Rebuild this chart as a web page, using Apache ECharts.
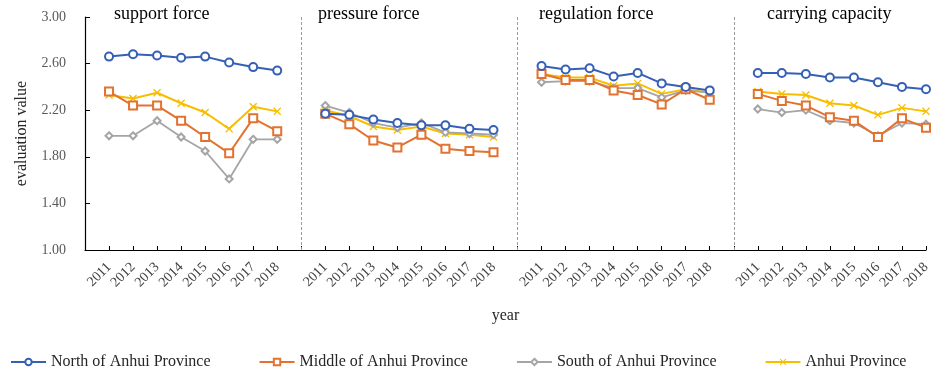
<!DOCTYPE html>
<html>
<head>
<meta charset="utf-8">
<script src="https://cdn.jsdelivr.net/npm/echarts@6/dist/echarts.min.js"></script>
<style>
html,body{margin:0;padding:0;background:#fff;}
#chart{width:941px;height:381px;}
</style>
</head>
<body>
<div id="chart"></div>
<script>
// ---- data ----
var years = ['2011','2012','2013','2014','2015','2016','2017','2018'];
var panels = ['support force','pressure force','regulation force','carrying capacity'];
var yTicks = [1.00, 1.40, 1.80, 2.20, 2.60, 3.00];
var seriesNames = ['North of Anhui Province','Middle of Anhui Province','South of Anhui Province','Anhui Province'];

var north = [
  2.66, 2.68, 2.67, 2.65, 2.66, 2.61, 2.57, 2.54,
  2.17, 2.16, 2.12, 2.09, 2.07, 2.07, 2.04, 2.03,
  2.58, 2.55, 2.56, 2.49, 2.52, 2.43, 2.40, 2.37,
  2.52, 2.52, 2.51, 2.48, 2.48, 2.44, 2.40, 2.38
];
var middle = [
  2.36, 2.24, 2.24, 2.11, 1.97, 1.83, 2.13, 2.02,
  2.17, 2.08, 1.94, 1.88, 1.99, 1.87, 1.85, 1.84,
  2.51, 2.46, 2.46, 2.37, 2.33, 2.25, 2.38, 2.29,
  2.34, 2.28, 2.24, 2.14, 2.11, 1.97, 2.13, 2.05
];
var south = [
  1.98, 1.98, 2.11, 1.97, 1.85, 1.61, 1.95, 1.95,
  2.24, 2.18, 2.09, 2.05, 2.09, 2.01, 2.00, 1.99,
  2.44, 2.45, 2.45, 2.39, 2.39, 2.31, 2.37, 2.35,
  2.21, 2.18, 2.20, 2.11, 2.09, 1.98, 2.09, 2.08
];
var anhui = [
  2.33, 2.30, 2.35, 2.26, 2.18, 2.04, 2.23, 2.19,
  2.20, 2.15, 2.06, 2.03, 2.06, 2.00, 1.99, 1.97,
  2.51, 2.48, 2.48, 2.41, 2.43, 2.34, 2.38, 2.35,
  2.36, 2.34, 2.33, 2.26, 2.24, 2.16, 2.22, 2.19
];

// ---- build category axis: blank slot before each panel ----
var categories = [];
var sepIdx = [];
panels.forEach(function (p, pi) {
  if (pi > 0) sepIdx.push(categories.length);
  categories.push('');
  years.forEach(function (y) { categories.push(y); });
});
function expand(vals) {
  var out = [];
  for (var pi = 0; pi < panels.length; pi++) {
    out.push(null);
    for (var k = 0; k < years.length; k++) out.push(vals[pi * years.length + k]);
  }
  return out;
}

var FONT = "'Times New Roman','Liberation Serif',serif";
var crossPath = 'path://M0,1.2L1.2,0L5,3.8L8.8,0L10,1.2L6.2,5L10,8.8L8.8,10L5,6.2L1.2,10L0,8.8L3.8,5Z';

var styles = [
  {color:'#3560B5', symbol:'emptyCircle', size:8, width:2},
  {color:'#E2722E', symbol:'emptyRect', size:8, width:2},
  {color:'#A5A5A5', symbol:'emptyDiamond', size:7, width:1.8},
  {color:'#F7BE00', symbol:crossPath, size:8, width:2}
];
var allVals = [north, middle, south, anhui];

var series = allVals.map(function (v, i) {
  var s = {
    name: seriesNames[i],
    type: 'line',
    data: expand(v),
    connectNulls: false,
    symbol: styles[i].symbol,
    symbolSize: styles[i].size,
    showAllSymbol: true,
    lineStyle: {color: styles[i].color, width: styles[i].width},
    itemStyle: {color: styles[i].color, borderColor: styles[i].color, borderWidth: 1.5},
    z: 10 - i
  };
  if (i === 3) s.itemStyle = {color: styles[i].color};
  if (i === 0) {
    s.markLine = {
      silent: true,
      symbol: ['none','none'],
      label: {show: false},
      lineStyle: {type: [3, 2], color: '#9a9a9a', width: 1},
      data: sepIdx.map(function (ix) { return {xAxis: ix}; })
    };
  }
  return s;
});

var titleLeft = [114, 318, 539, 767];
var chart = echarts.init(document.getElementById('chart'));
chart.setOption({
  animation: false,
  backgroundColor: '#fff',
  textStyle: {fontFamily: FONT},
  title: panels.map(function (p, i) {
    return {text: p, left: titleLeft[i], top: 5, padding: 0,
      textStyle: {fontFamily: FONT, fontSize: 18, fontWeight: 'normal', color: '#000'}};
  }),
  grid: {left: 85, right: 15, top: 17, bottom: 131, containLabel: false},
  xAxis: {
    type: 'category',
    data: categories,
    boundaryGap: false,
    name: 'year',
    nameLocation: 'middle',
    nameGap: 58,
    nameTextStyle: {fontFamily: FONT, fontSize: 16, color: '#262626'},
    axisLine: {lineStyle: {color: '#000', width: 1.2}},
    axisTick: {show: true, inside: true, length: 4, interval: 0, lineStyle: {color: '#000'}},
    axisLabel: {interval: 0, rotate: 45, fontFamily: FONT, fontSize: 14, color: '#404040', margin: 15},
    splitLine: {show: false}
  },
  yAxis: {
    type: 'value',
    min: 1, max: 3,
    name: 'evaluation value',
    nameLocation: 'middle',
    nameGap: 55,
    nameTextStyle: {fontFamily: FONT, fontSize: 16, color: '#262626'},
    axisLine: {show: true, lineStyle: {color: '#000', width: 1.2}},
    axisTick: {show: true, inside: true, length: 5, customValues: yTicks, lineStyle: {color: '#000'}},
    axisLabel: {customValues: yTicks, fontFamily: FONT, fontSize: 14, color: '#595959', margin: 19,
      formatter: function (v) { return v.toFixed(2); }},
    splitLine: {show: false}
  },
  legend: {
    data: seriesNames,
    left: 10, top: 354, padding: 0,
    itemWidth: 35, itemHeight: 8, itemGap: 48,
    textStyle: {fontFamily: FONT, fontSize: 16, color: '#262626'}
  },
  series: series
});
</script>
</body>
</html>
